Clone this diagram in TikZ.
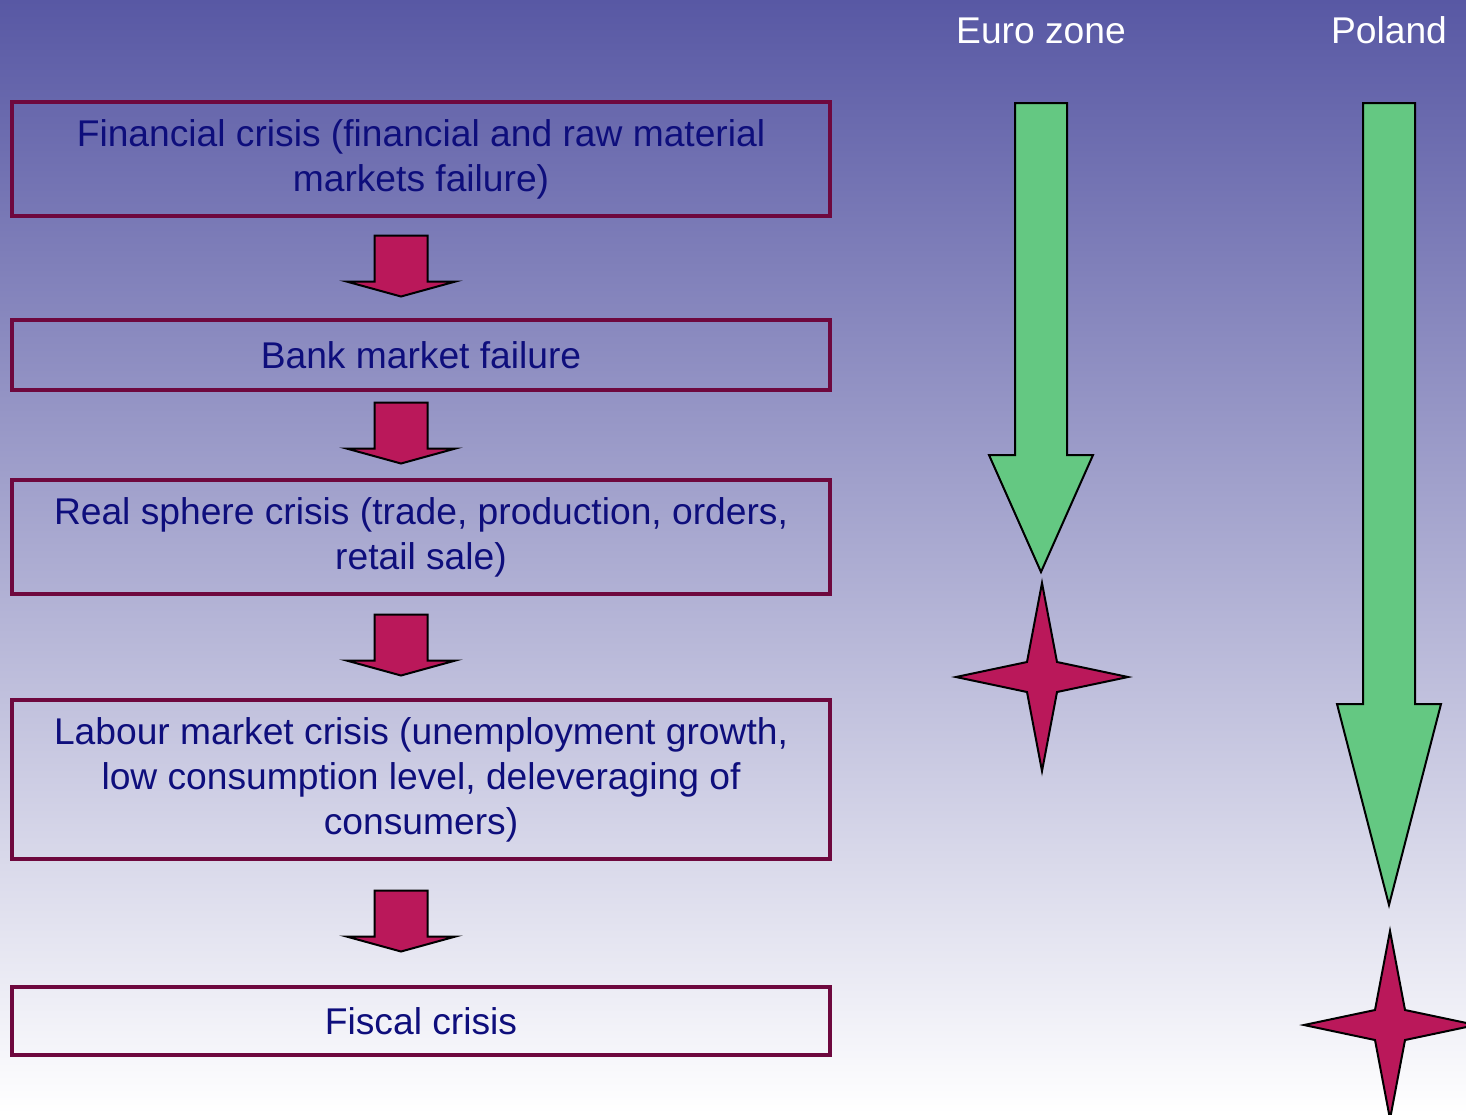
\documentclass[tikz,border=0pt]{standalone}
\usepackage{fontspec}
\setmainfont{Liberation Sans}
\usetikzlibrary{calc}

\definecolor{deepnavy}{RGB}{14,14,124}
\definecolor{boxrim}{RGB}{110,8,62}
\definecolor{crimson}{RGB}{186,24,90}
\definecolor{leafgreen}{RGB}{100,200,130}
\definecolor{skytop}{RGB}{88,88,164}
\definecolor{skymid}{RGB}{192,192,216}

\begin{document}
\begin{tikzpicture}[
            x=0.5pt, y=-0.5pt,
            every node/.style={font=\fontsize{18.6}{22.5}\selectfont},
            crisis/.style={draw=boxrim,line width=2pt,minimum width=409pt,inner sep=0pt,align=center,text=deepnavy},
            redblock/.style={fill=crimson,draw=black,line width=1pt},
            greenblock/.style={fill=leafgreen,draw=black,line width=1pt},
            spark/.style={fill=crimson,draw=black,line width=1pt}
        ]
  \useasboundingbox (0,0) rectangle (1466,1114);
  \clip (0,0) rectangle (1466,1114);
  \shade[top color=skytop,middle color=skymid,bottom color=white] (0,0) rectangle (1466,1114);

  % chain of crises
  \node[crisis,minimum height=57pt] (fin) at (421,159) {Financial crisis (financial and raw material\\markets failure)};
  \node[crisis,minimum height=35pt] (bank) at (421,355) {Bank market failure};
  \node[crisis,minimum height=57pt] (real) at (421,537) {Real sphere crisis (trade, production, orders,\\retail sale)};
  \node[crisis,minimum height=79.5pt] (labour) at (421,779.5) {Labour market crisis (unemployment growth,\\low consumption level, deleveraging of\\consumers)};
  \node[crisis,minimum height=34pt] (fiscal) at (421,1021) {Fiscal crisis};

  \foreach \a/\b in {fin/bank,bank/real,real/labour,labour/fiscal}
    \draw[redblock] ($(\a.south)!0.5!(\b.north)+(-46.5,-32.5)$) -- ++(53,0) -- ++(0,46) -- ++(28,0)
      -- ++(-54.5,15) -- ++(-54.5,-15) -- ++(28,0) -- cycle;

  % the two columns
  \node[anchor=base,text=white] (euro) at (1041,43) {Euro zone};
  \node[anchor=base,text=white] (poland) at (1389,43) {Poland};

  \foreach \x/\s/\t in {1041/455/572,1389/704/905}
    \draw[greenblock] (\x-26,103) -- (\x+26,103) -- (\x+26,\s) -- (\x+52,\s) -- (\x,\t) -- (\x-52,\s) -- (\x-26,\s) -- cycle;

  \foreach \x/\y in {1042/677,1390/1025}
    \draw[spark,shift={(\x,\y)}] (0,-94) -- (15,-15) -- (86,0) -- (15,15) -- (0,94) -- (-15,15) -- (-86,0) -- (-15,-15) -- cycle;
\end{tikzpicture}
\end{document}
